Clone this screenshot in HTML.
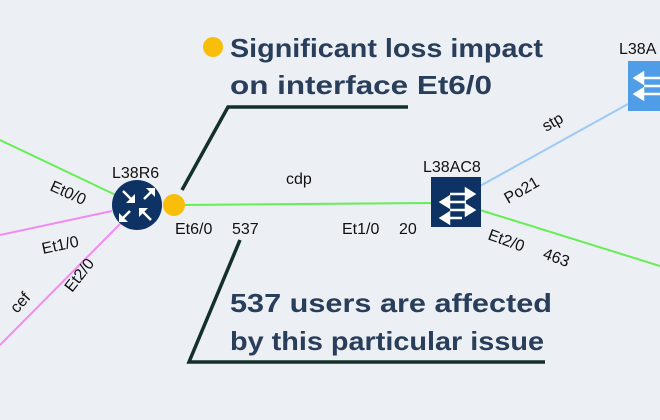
<!DOCTYPE html>
<html><head><meta charset="utf-8"><style>
html,body{margin:0;padding:0;background:#eceff4;}
svg{display:block;font-family:"Liberation Sans",sans-serif;}
</style></head><body>
<svg width="660" height="420" viewBox="0 0 660 420" xmlns="http://www.w3.org/2000/svg">
<rect width="660" height="420" fill="#eceff4"/>
<line x1="0" y1="140" x2="120" y2="197" stroke="#66ee55" stroke-width="2"/>
<line x1="0" y1="235" x2="112" y2="211" stroke="#f38af0" stroke-width="2"/>
<line x1="0" y1="345" x2="122" y2="222" stroke="#f38af0" stroke-width="2"/>
<line x1="180" y1="205" x2="432" y2="203" stroke="#66ee55" stroke-width="2"/>
<line x1="480" y1="210" x2="660" y2="266" stroke="#66ee55" stroke-width="2"/>
<line x1="480" y1="186" x2="628" y2="104" stroke="#9ccaf5" stroke-width="2"/>
<polyline points="182,190 228,107 408,107" fill="none" stroke="#14302a" stroke-width="3.5"/>
<polyline points="240,240 189,362 545,362" fill="none" stroke="#14302a" stroke-width="3.5"/>
<circle cx="137" cy="205" r="25" fill="#0e3263"/>
<g fill="#fff">
<line x1="123" y1="191" x2="132" y2="200" stroke="#fff" stroke-width="2.5"/>
<polygon points="135,203 126,203 135,194"/>
<line x1="153" y1="190" x2="144" y2="199" stroke="#fff" stroke-width="2.5"/>
<polygon points="155,188 146,188 155,197"/>
<line x1="121" y1="220" x2="130" y2="211" stroke="#fff" stroke-width="2.5"/>
<polygon points="119,222 119,213 128,222"/>
<line x1="151" y1="220" x2="142" y2="211" stroke="#fff" stroke-width="2.5"/>
<polygon points="139,208 139,217 148,208"/>
</g>
<circle cx="174" cy="205" r="11" fill="#f9be0a"/>
<rect x="431" y="177" width="50" height="50" fill="#0e3263"/>
<g stroke="#fff" stroke-width="2.5" fill="#fff">
<line x1="450" y1="194" x2="470" y2="194"/><polygon points="474,194 466,189 466,199"/>
<line x1="446" y1="202" x2="466" y2="202"/><polygon points="441,202 449,197 449,207"/>
<line x1="450" y1="210" x2="470" y2="210"/><polygon points="474,210 466,205 466,215"/>
<line x1="446" y1="218" x2="462" y2="218"/><polygon points="441,218 449,213 449,223"/>
</g>
<rect x="628" y="61" width="40" height="50" fill="#4f9de6"/>
<g stroke="#fff" stroke-width="2.5" fill="#fff">
<line x1="640" y1="78" x2="660" y2="78"/><polygon points="635,78 643,73 643,83"/>
<line x1="644" y1="86" x2="660" y2="86"/>
<line x1="640" y1="94" x2="660" y2="94"/><polygon points="635,94 643,89 643,99"/>
</g>
<g font-size="16" fill="#111">
<text x="112" y="178">L38R6</text>
<text x="423" y="172">L38AC8</text>
<text x="619" y="54">L38A</text>
<text x="175" y="234">Et6/0</text>
<text x="232" y="234">537</text>
<text x="286" y="184">cdp</text>
<text x="342" y="234">Et1/0</text>
<text x="399" y="234">20</text>
<text transform="translate(49,190) rotate(24)">Et0/0</text>
<text transform="translate(43,254) rotate(-12)">Et1/0</text>
<text transform="translate(72,293) rotate(-52)">Et2/0</text>
<text transform="translate(17,314) rotate(-48)">cef</text>
<text transform="translate(546,132) rotate(-30)">stp</text>
<text transform="translate(508,204) rotate(-30)">Po21</text>
<text transform="translate(487,239) rotate(20)">Et2/0</text>
<text transform="translate(542,258) rotate(20)">463</text>
</g>
<circle cx="213" cy="47" r="10" fill="#f9be0a"/>
<g font-size="26" font-weight="bold" fill="#283e5a">
<text x="230" y="57" textLength="313" lengthAdjust="spacingAndGlyphs">Significant loss impact</text>
<text x="230" y="94" textLength="262" lengthAdjust="spacingAndGlyphs">on interface Et6/0</text>
<text x="230" y="312" textLength="322" lengthAdjust="spacingAndGlyphs">537 users are affected</text>
<text x="230" y="350" textLength="314" lengthAdjust="spacingAndGlyphs">by this particular issue</text>
</g>
</svg>
</body></html>
